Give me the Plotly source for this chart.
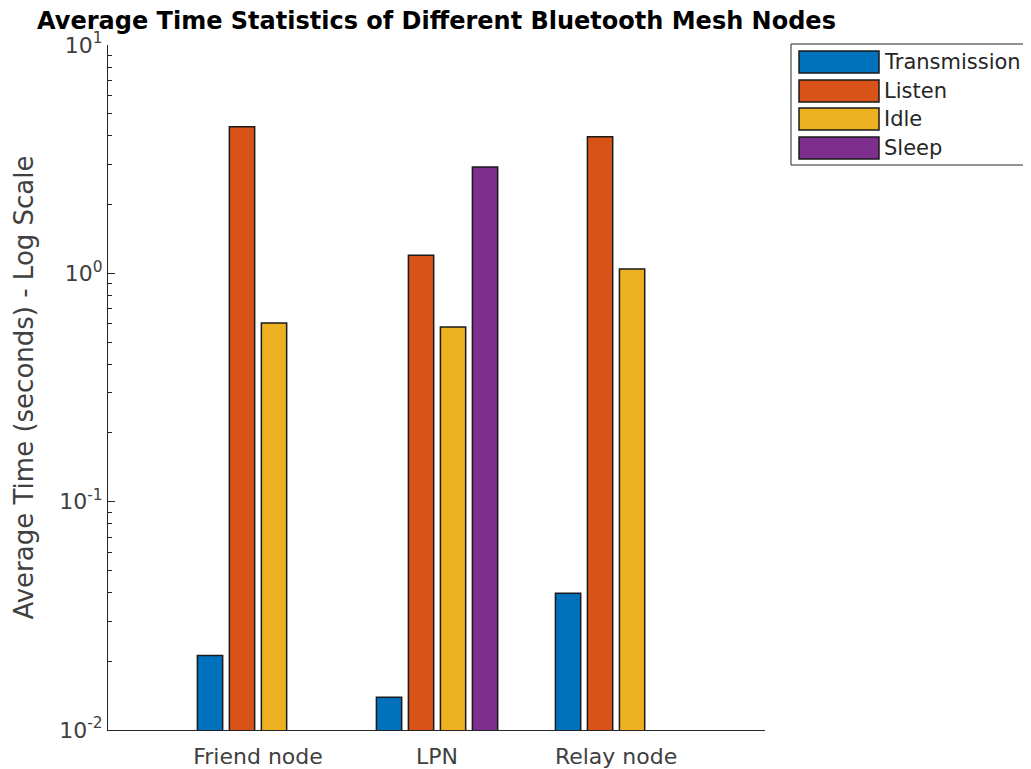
import plotly.graph_objects as go

categories = ["Friend node", "LPN", "Relay node"]
series_names = ["Transmission", "Listen", "Idle", "Sleep"]
transmission = [0.0212, 0.0139, 0.0397]
listen = [4.38, 1.20, 3.96]
idle = [0.606, 0.582, 1.045]
sleep = [None, 2.92, None]
colors = ["#0072BD", "#D95319", "#EDB120", "#7E2F8E"]
ytick_vals = [0.01, 0.1, 1, 10]
ytick_text = ["10<sup>-2</sup>", "10<sup>-1</sup>", "10<sup>0</sup>", "10<sup>1</sup>"]
minor_vals = [k * d for d in (0.01, 0.1, 1) for k in range(2, 10)]

FONT = "DejaVu Sans, Verdana, sans-serif"
values = [transmission, listen, idle, sleep]

# page body offset (~8px) compensation: plot area on screen 108..765 x, 45..730 y
OFF = 8
L, R_EDGE, T, B_EDGE = 108 - OFF, 765 - OFF, 45 - OFF, 730 - OFF
W, H = 1031, 769

fig = go.Figure()
for name, vals, col in zip(series_names, values, colors):
    fig.add_trace(go.Bar(
        x=categories, y=vals, name=name,
        marker=dict(color=col, line=dict(color="#1a1a1a", width=1.5)),
        showlegend=False,
    ))

fig.update_layout(
    width=W, height=H,
    margin=dict(l=L, r=W - R_EDGE, t=T, b=H - B_EDGE, autoexpand=False),
    paper_bgcolor="white", plot_bgcolor="white",
    barmode="group", bargap=0.285, bargroupgap=0.21,
    font=dict(family=FONT, color="#262626"),
    title=dict(
        text="<b>Average Time Statistics of Different Bluetooth Mesh Nodes</b>",
        x=(L + R_EDGE) / 2 / W, xanchor="center",
        y=1 - (21 - OFF) / H, yanchor="middle",
        font=dict(size=24, color="black", family=FONT),
    ),
    xaxis=dict(
        type="category", range=[-0.838, 2.832],
        showline=True, linecolor="#262626", linewidth=1,
        ticks="", showgrid=False, zeroline=False, automargin=False,
        tickfont=dict(size=22, color="#404040"),
        ticklabelstandoff=7,
    ),
    yaxis=dict(
        type="log", range=[-2, 1], automargin=False,
        showline=True, linecolor="#262626", linewidth=1,
        ticks="inside", ticklen=7, tickcolor="#262626",
        tickvals=ytick_vals, ticktext=ytick_text,
        tickfont=dict(size=22, color="#404040"),
        showgrid=False, zeroline=False,
        minor=dict(tickmode="array", tickvals=minor_vals, ticks="inside",
                   ticklen=4, tickcolor="#262626", showgrid=False),
        title=dict(text="Average Time (seconds) - Log Scale",
                   font=dict(size=26, color="#404040"), standoff=18),
    ),
)

# Legend drawn as a box with wide swatches (MATLAB style)
def px2x(px):
    return (px - 108) / (765 - 108)

def py2y(py):
    return (730 - py) / (730 - 45)

fig.add_shape(type="rect", xref="paper", yref="paper",
              x0=px2x(791), x1=px2x(1045), y0=py2y(44), y1=py2y(165),
              line=dict(color="#262626", width=1), fillcolor="white")
row_tops = [51, 80, 108, 137]
for name, col, top in zip(series_names, colors, row_tops):
    fig.add_shape(type="rect", xref="paper", yref="paper",
                  x0=px2x(799), x1=px2x(879), y0=py2y(top), y1=py2y(top + 22),
                  line=dict(color="#1a1a1a", width=1.5), fillcolor=col)
    fig.add_annotation(xref="paper", yref="paper", x=px2x(882), y=py2y(top + 11),
                       text=name, showarrow=False, xanchor="left", yanchor="middle",
                       font=dict(size=21, color="#262626", family=FONT))

fig.write_html("out.html")
